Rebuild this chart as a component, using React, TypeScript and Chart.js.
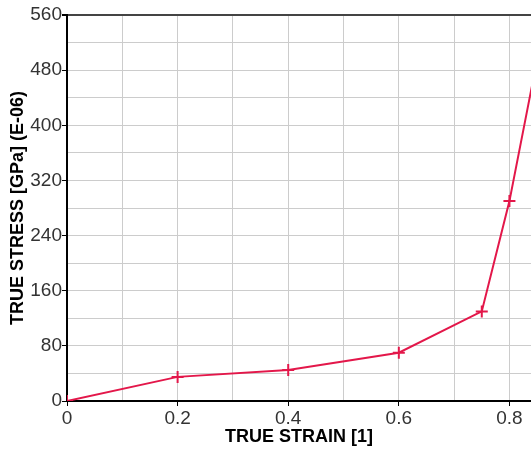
import React, { useEffect, useRef } from "react";
import { Chart, registerables } from "chart.js";

Chart.register(...registerables);

const strain = [0, 0.2, 0.4, 0.6, 0.75, 0.8, 0.85];
const stress = [0, 35, 45, 70, 130, 290, 495];
const xGridTicks = [0, 0.1, 0.2, 0.3, 0.4, 0.5, 0.6, 0.7, 0.8];
const xTitle = "TRUE STRAIN [1]";
const yTitle = "TRUE STRESS [GPa] (E-06)";

const FONT = "'Liberation Sans', Arial, sans-serif";
const LINE = "#e3174a";

export default function App() {
  const ref = useRef<HTMLCanvasElement>(null);
  useEffect(() => {
    document.body.style.margin = "0";
    document.body.style.overflow = "hidden";
    const chart = new Chart(ref.current!, {
      type: "line",
      data: {
        datasets: [
          {
            data: strain.map((x, i) => ({ x, y: stress[i] })),
            borderColor: LINE,
            backgroundColor: LINE,
            borderWidth: 2,
            pointStyle: "cross",
            pointRadius: 6,
            pointBorderWidth: 2,
            pointBorderColor: LINE,
            tension: 0,
          },
        ],
      },
      options: {
        animation: false,
        responsive: false,
        devicePixelRatio: 1,
        layout: { autoPadding: false, padding: { top: 15, right: 0, left: 0, bottom: 0 } },
        plugins: { legend: { display: false }, tooltip: { enabled: false } },
        scales: {
          x: {
            type: "linear",
            min: 0,
            max: 0.839,
            afterBuildTicks: (scale: any) => {
              scale.ticks = xGridTicks.map((v) => ({ value: v }));
            },
            afterFit: (scale: any) => {
              scale.height = 49;
              scale.paddingRight = 0;
              scale.paddingLeft = 0;
            },
            ticks: {
              autoSkip: false,
              maxRotation: 0,
              padding: 1,
              color: "#333",
              font: { family: FONT, size: 19 },
              callback: (v: any) => {
                const n = Math.round(Number(v) * 10);
                if (n % 2 !== 0) return "";
                return n === 0 ? "0" : (n / 10).toFixed(1);
              },
            },
            grid: {
              color: "#cccccc",
              lineWidth: 1,
              tickLength: 5,
              tickColor: (ctx: any) => {
                const n = Math.round(ctx.tick.value * 10);
                return n % 2 === 0 ? "#000" : "rgba(0,0,0,0)";
              },
            },
            border: { color: "#000", width: 2 },
            title: {
              display: true,
              text: xTitle,
              color: "#000",
              font: { family: FONT, size: 18, weight: "bold" },
              padding: { top: 0, bottom: 2 },
            },
          },
          y: {
            type: "linear",
            min: 0,
            max: 560,
            afterFit: (scale: any) => {
              scale.width = 67;
            },
            ticks: {
              stepSize: 40,
              padding: 0,
              color: "#333",
              font: { family: FONT, size: 19 },
              callback: (v: any) => (Number(v) % 80 === 0 ? String(v) : ""),
            },
            grid: {
              color: (ctx: any) => (ctx.tick && ctx.tick.value === 560 ? "#444" : "#cccccc"),
              lineWidth: (ctx: any) => (ctx.tick && ctx.tick.value === 560 ? 2 : 1),
              tickLength: 5,
              tickColor: (ctx: any) =>
                ctx.tick.value % 80 === 0 ? "#000" : "rgba(0,0,0,0)",
            },
            border: { color: "#000", width: 2 },
            title: {
              display: true,
              text: yTitle,
              color: "#000",
              font: { family: FONT, size: 18, weight: "bold" },
              padding: { top: 7, bottom: 0 },
            },
          },
        },
      },
    });
    return () => chart.destroy();
  }, []);
  return (
    <div style={{ position: "absolute", left: 0, top: 0, width: 531, height: 450 }}>
      <canvas ref={ref} width={531} height={450} style={{ display: "block" }} />
    </div>
  );
}
